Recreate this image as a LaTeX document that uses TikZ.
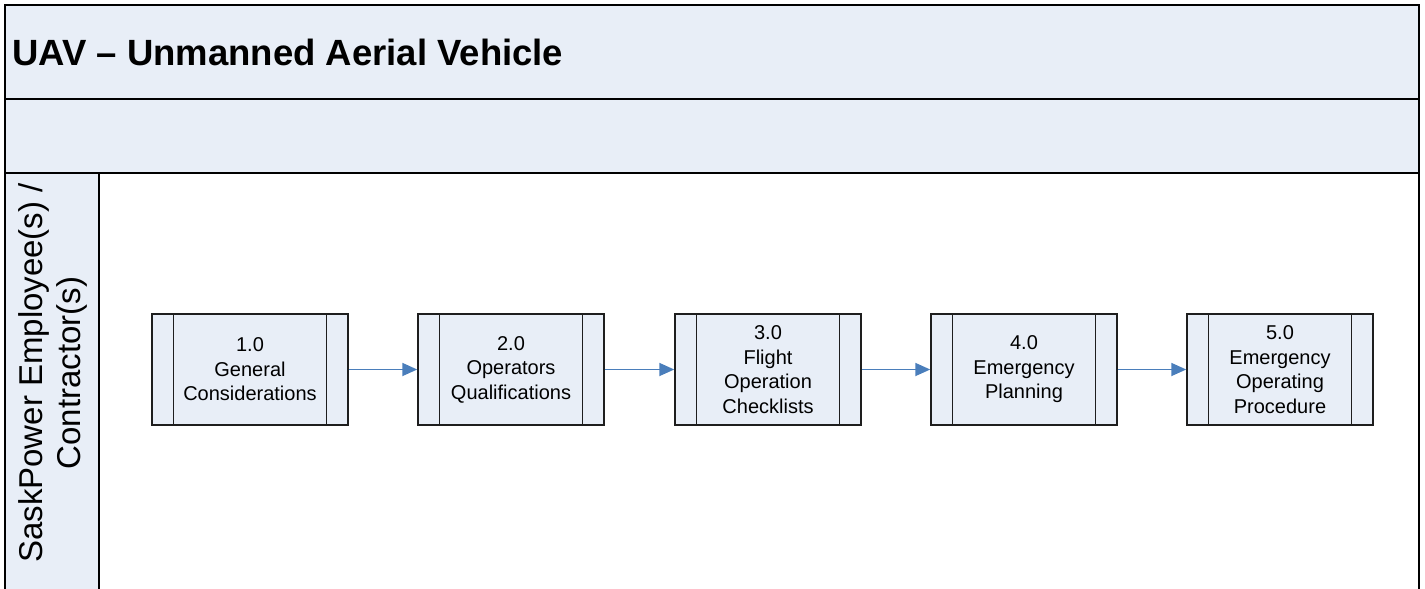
\documentclass[tikz,border=0pt]{standalone}
\usepackage{fontspec}
\setmainfont{Liberation Sans}
\usetikzlibrary{arrows.meta,calc}
\definecolor{lanefill}{RGB}{232,238,247}
\definecolor{arrowblue}{RGB}{74,126,187}
\definecolor{boxline}{RGB}{30,30,30}
\tikzset{
  frameline/.style={line width=2.2pt, draw=black},
  procbox/.style={draw=boxline, line width=1.5pt, fill=lanefill, minimum height=111pt,
    align=center, inner sep=0pt, font=\fontsize{20}{24.5}\selectfont},
  stripline/.style={draw=boxline, line width=1.3pt},
  flow/.style={draw=arrowblue, line width=1.8pt, -{Triangle[length=15pt,width=13pt]}}
}
\begin{document}
\begin{tikzpicture}[x=1pt,y=-1pt]
\useasboundingbox (0,0) rectangle (1425,589);
% bands
\fill[lanefill] (5,5) rectangle (1419,173);
\fill[lanefill] (5,173) rectangle (99,595);
\draw[frameline] (5,595) -- (5,5) -- (1419,5) -- (1419,595);
\draw[frameline] (5,99) -- (1419,99);
\draw[frameline] (5,173) -- (1419,173);
\draw[frameline] (99,173) -- (99,595);
% title
\node[anchor=base west, inner sep=0pt, font=\fontsize{36.5}{42}\selectfont\bfseries] (title) at (12,65) {UAV – Unmanned Aerial Vehicle};
% lane label
\node[rotate=90, align=center, inner sep=0pt, font=\fontsize{33}{38}\selectfont] (lane) at (53,373) {SaskPower Employee(s) /\\Contractor(s)};
% process boxes
\node[procbox, minimum width=196pt] (b1) at (250,369.5) {1.0\\General\\Considerations};
\node[procbox, minimum width=186pt] (b2) at (511,369.5) {2.0\\Operators\\Qualifications};
\node[procbox, minimum width=186pt] (b3) at (768,369.5) {3.0\\Flight\\Operation\\Checklists};
\node[procbox, minimum width=186pt] (b4) at (1024,369.5) {4.0\\Emergency\\Planning};
\node[procbox, minimum width=186pt] (b5) at (1280,369.5) {5.0\\Emergency\\Operating\\Procedure};
\foreach \b in {b1,b2,b3,b4,b5}{
  \draw[stripline] ($(\b.north west)+(22,0)$) -- ($(\b.south west)+(22,0)$);
  \draw[stripline] ($(\b.north east)+(-22,0)$) -- ($(\b.south east)+(-22,0)$);
}
% connectors
\draw[flow] (b1.east) -- (b2.west);
\draw[flow] (b2.east) -- (b3.west);
\draw[flow] (b3.east) -- (b4.west);
\draw[flow] (b4.east) -- (b5.west);
\end{tikzpicture}
\end{document}
